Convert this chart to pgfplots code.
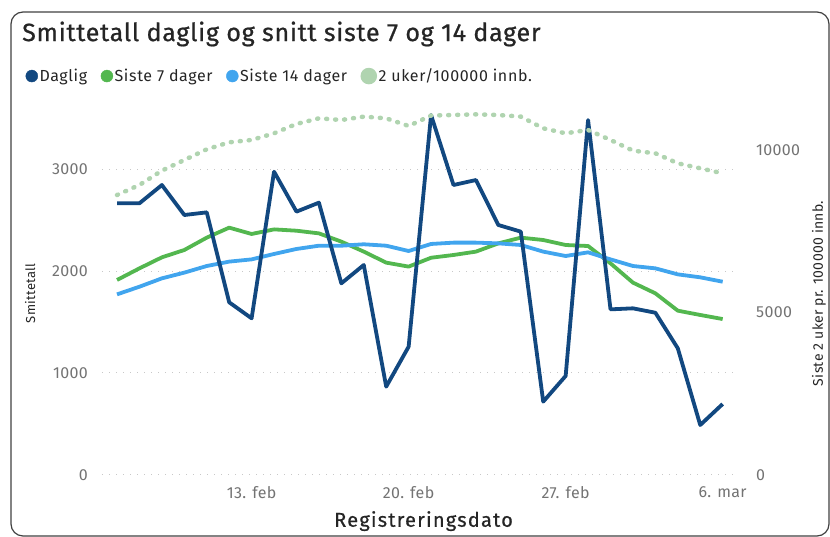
\documentclass[border=0pt]{standalone}
\usepackage{pgfplots}
\pgfplotsset{compat=1.18}
\usepackage{fontspec}
\setmainfont{Fira Sans}
\definecolor{cDag}{RGB}{18,72,128}
\definecolor{cS7}{RGB}{83,183,79}
\definecolor{cS14}{RGB}{65,165,238}
\definecolor{cUk}{RGB}{176,212,176}
\definecolor{cTick}{RGB}{115,115,115}
\definecolor{cGrid}{RGB}{200,200,200}
\definecolor{cText}{RGB}{37,37,37}

\pgfplotstableread{
x daglig s7 s14 uker
0 2664 1912 1771 8615
1 2664 2026 1846 8923
2 2843 2134 1928 9364
3 2549 2206 1984 9692
4 2575 2327 2049 10021
5 1693 2425 2092 10236
6 1536 2363 2114 10308
7 2974 2408 2167 10513
8 2582 2395 2216 10800
9 2670 2369 2248 10974
10 1879 2288 2248 10923
11 2059 2190 2262 11026
12 866 2082 2248 10974
13 1258 2043 2196 10738
14 3529 2130 2265 11060
15 2843 2157 2278 11077
16 2892 2190 2278 11097
17 2451 2271 2271 11077
18 2386 2327 2255 11026
19 719 2304 2190 10667
20 971 2255 2147 10513
21 3480 2245 2183 10615
22 1624 2075 2114 10308
23 1634 1886 2049 9980
24 1591 1781 2026 9897
25 1242 1611 1967 9590
26 490 1569 1938 9436
27 696 1529 1895 9282
}\datatable

\begin{document}
\begin{tikzpicture}[x=1pt,y=1pt]
\useasboundingbox (0,0) rectangle (830,537);
\draw[line width=1.2pt, color=black!75, rounded corners=12pt] (11,1) rectangle (829,525);
\node[anchor=west, inner sep=0pt, font=\fontsize{25}{27}\selectfont\addfontfeatures{LetterSpace=3,FakeBold=0.8}, text=cText] at (22,503) {Smittetall daglig og snitt siste 7 og 14 dager};

\pgfplotsset{
  base/.style={
    scale only axis, width=633pt, height=363pt,
    at={(102pt,62pt)}, anchor=south west,
    xmin=-0.67, xmax=27.55,
    major tick length=0pt,
    tick label style={font=\fontsize{16}{18}\selectfont\addfontfeatures{LetterSpace=2}, text=cTick},
    /pgf/number format/assume math mode=true,
    /pgf/number format/1000 sep={},
    scaled y ticks=false,
    clip=false,
  }
}

\begin{axis}[base,
  axis line style={draw=none},
  ymin=0, ymax=3559,
  ytick={0,1000,2000,3000},
  ymajorgrids,
  grid style={cGrid, line width=1pt, dash pattern=on 1pt off 6pt},
  yticklabel style={anchor=east, inner sep=0pt, xshift=-14pt},
  xtick={6,13,20,27},
  xticklabels={13. feb,20. feb,27. feb,6. mar},
  xticklabel style={anchor=north, inner sep=0pt, yshift=-11pt},
  ylabel={Smittetall},
  ylabel style={at={(axis description cs:-0.1137,0.5)}, anchor=center, font=\fontsize{13}{15}\selectfont\addfontfeatures{LetterSpace=2}, text=cText},
  xlabel={Registreringsdato},
  xlabel style={at={(axis description cs:0.508,-0.127)}, anchor=center, font=\fontsize{20}{22}\selectfont\addfontfeatures{LetterSpace=6,FakeBold=0.6}, text=cText},
]
\addplot[cS7, line width=3.8pt, line join=round] table[x=x,y=s7] {\datatable};
\addplot[cS14, line width=3.8pt, line join=round] table[x=x,y=s14] {\datatable};
\addplot[cDag, line width=3.8pt, line join=round] table[x=x,y=daglig] {\datatable};
\end{axis}

\begin{axis}[base,
  axis line style={draw=none},
  axis x line=none,
  axis y line*=right,
  ymin=0, ymax=11169,
  ytick={0,5000,10000},
  yticklabel style={anchor=west, inner sep=0pt, xshift=21pt},
  ylabel={Siste 2 uker pr. 100000 innb.},
  ylabel style={at={(axis description cs:1.1327,0.5)}, anchor=center, font=\fontsize{14}{16}\selectfont\addfontfeatures{LetterSpace=2}, text=cText},
  legend columns=4,
  legend style={at={(axis description cs:-0.121,1.099)}, anchor=west, draw=none, fill=none, inner sep=0pt,
    font=\fontsize{16}{18}\selectfont\addfontfeatures{LetterSpace=4}, text=cText,
    nodes={inner sep=1.5pt},
    /tikz/every odd column/.append style={column sep=0pt},
    /tikz/every even column/.append style={column sep=12pt}},
  legend image code/.code={\fill[#1, solid] (0pt,0pt) circle (6pt);},
]
\addlegendimage{cDag}
\addlegendentry{Daglig}
\addlegendimage{cS7}
\addlegendentry{Siste 7 dager}
\addlegendimage{cS14}
\addlegendentry{Siste 14 dager}
\addplot[cUk, line width=4.5pt, line cap=round, dash pattern=on 1pt off 8pt] table[x=x,y=uker] {\datatable};
\addlegendentry{2 uker/100000 innb.}
\end{axis}
\end{tikzpicture}
\end{document}
